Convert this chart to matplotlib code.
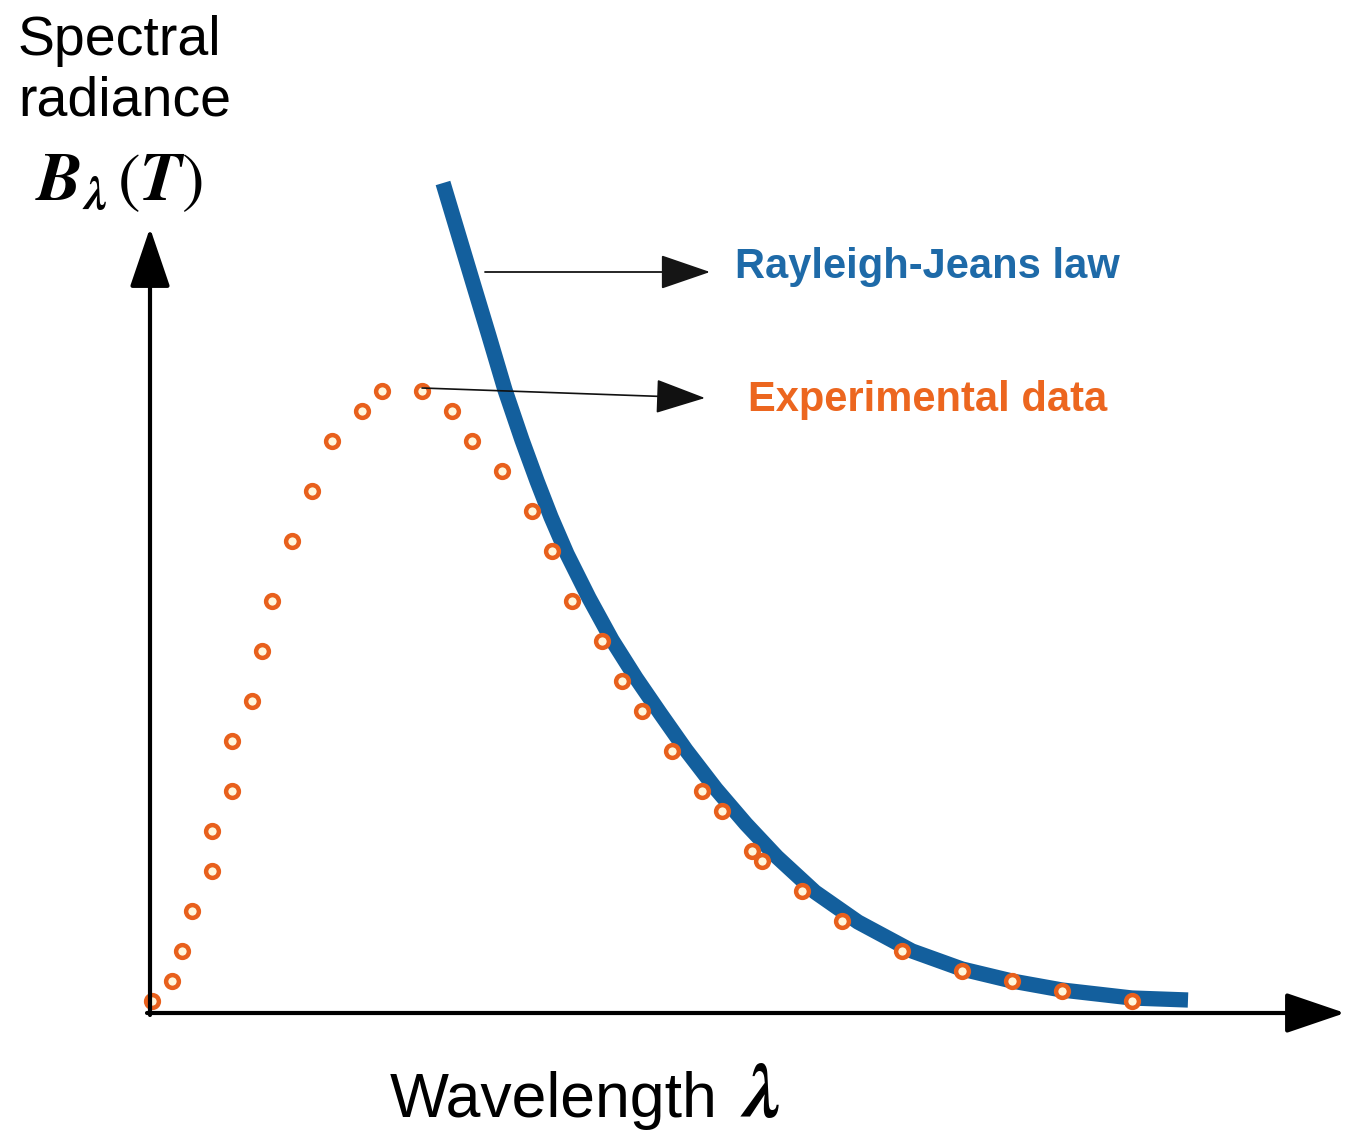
import numpy as np
import matplotlib.pyplot as plt
from matplotlib.patches import ArrowStyle

plt.rcParams['font.family'] = ['Liberation Sans', 'DejaVu Sans']
plt.rcParams['mathtext.fontset'] = 'stix'

# measured spectrum (arbitrary units)
lam_exp = [0.02, 0.22, 0.32, 0.42, 0.62, 0.62, 0.82, 0.82, 1.02, 1.12, 1.22, 1.42, 1.62,
           1.82, 2.12, 2.32, 2.72, 3.02, 3.22, 3.52, 3.82, 4.02, 4.22, 4.52, 4.72, 4.92,
           5.22, 5.52, 5.72, 6.02, 6.12, 6.52, 6.92, 7.52, 8.12, 8.62, 9.12, 9.82]
B_exp = [0.12, 0.32, 0.62, 1.02, 1.42, 1.82, 2.22, 2.72, 3.12, 3.62, 4.12, 4.72, 5.22,
         5.72, 6.02, 6.22, 6.22, 6.02, 5.72, 5.42, 5.02, 4.62, 4.12, 3.72, 3.32, 3.02,
         2.62, 2.22, 2.02, 1.62, 1.52, 1.22, 0.92, 0.62, 0.42, 0.32, 0.22, 0.12]

# classical prediction
lam_rj = [2.93, 3.08, 3.23, 3.39, 3.55, 3.72, 3.87, 4.01, 4.17, 4.39, 4.62, 4.86, 5.10,
          5.36, 5.66, 5.96, 6.27, 6.65, 7.08, 7.62, 8.12, 8.62, 9.12, 9.82, 10.38]
B_rj = [8.30, 7.80, 7.30, 6.77, 6.23, 5.73, 5.32, 4.96, 4.59, 4.15, 3.73, 3.35, 3.00,
        2.63, 2.24, 1.89, 1.56, 1.21, 0.91, 0.62, 0.44, 0.32, 0.23, 0.15, 0.13]

blue = '#135f9d'
orange = '#e8601c'

fig = plt.figure(figsize=(13.46, 11.31), dpi=100)
ax = fig.add_axes([0, 0, 1, 1])
ax.set_xlim(-1.5, 11.96)
ax.set_ylim(-1.18, 10.13)
ax.axis('off')

ax.plot(lam_rj, B_rj, color=blue, lw=11, solid_capstyle='butt',
        solid_joinstyle='round', zorder=2)
ax.plot(lam_exp, B_exp, 'o', ms=9.2, mec=orange, mfc='#fff6dc', mew=3.2, zorder=3)

# coordinate axes with arrow heads
axis_head = ArrowStyle('-|>', head_length=1.85, head_width=0.63)
ax.annotate('', xy=(0, 7.85), xytext=(0, -0.02),
            arrowprops=dict(arrowstyle=axis_head, mutation_scale=20, lw=3,
                            color='black', shrinkA=0, shrinkB=0))
ax.annotate('', xy=(11.95, 0), xytext=(-0.03, 0),
            arrowprops=dict(arrowstyle=axis_head, mutation_scale=20, lw=3,
                            color='black', shrinkA=0, shrinkB=0))

# pointers to the labels
label_head = ArrowStyle('-|>', head_length=1.6, head_width=0.55)
ax.annotate('', xy=(5.60, 7.41), xytext=(3.35, 7.41),
            arrowprops=dict(arrowstyle=label_head, mutation_scale=20, lw=1.3,
                            color='#151515', shrinkA=0, shrinkB=0))
ax.annotate('', xy=(5.55, 6.15), xytext=(lam_exp[16], B_exp[16] + 0.03),
            arrowprops=dict(arrowstyle=label_head, mutation_scale=20, lw=1.2,
                            color='#111111', shrinkA=0, shrinkB=0))

ax.text(5.85, 7.46, 'Rayleigh-Jeans law', color='#1e6aa8', fontsize=30,
        fontweight='bold', ha='left', va='center')
ax.text(5.98, 6.13, 'Experimental data', color='#ec661f', fontsize=30,
        fontweight='bold', ha='left', va='center')

# axis titles
fig.text(18 / 1346, 1 - 55 / 1131, 'Spectral', fontsize=40, ha='left', va='baseline')
fig.text(18 / 1346, 1 - 115 / 1131, 'radiance', fontsize=40, ha='left', va='baseline')
fig.text(35 / 1346, 1 - 200 / 1131,
         r'$\mathbfit{B}_{\mathbfit{\lambda}}\,(\mathbfit{T})$',
         fontsize=49, ha='left', va='baseline')
fig.text(390 / 1346, 1 - 1117 / 1131, 'Wavelength', fontsize=45, ha='left', va='baseline')
fig.text(740 / 1346, 1 - 1117 / 1131, r'$\mathbfit{\lambda}$', fontsize=56,
         ha='left', va='baseline')

fig.savefig('out.png', dpi=100)
